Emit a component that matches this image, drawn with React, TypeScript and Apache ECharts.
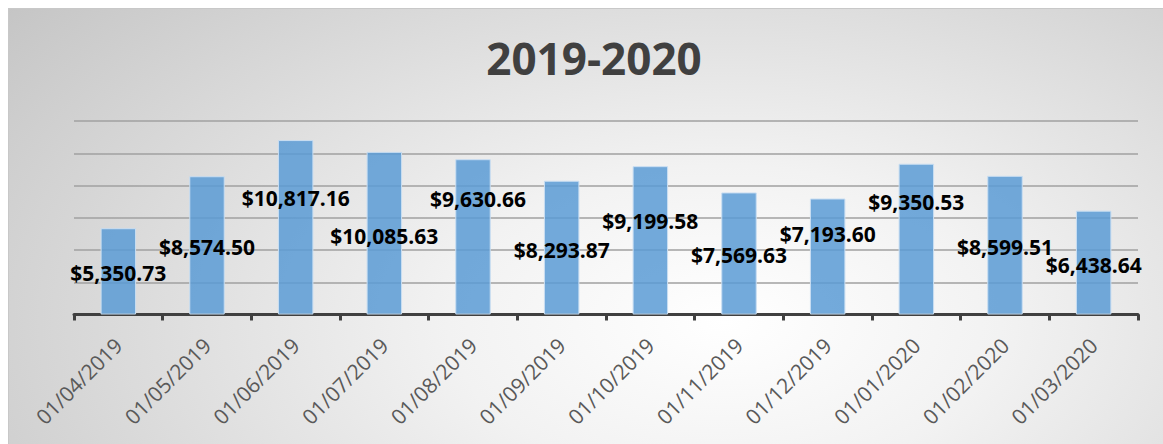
import React, { useEffect, useRef } from "react";
import * as echarts from "echarts";

const title = "2019-2020";
const categories = [
  "01/04/2019", "01/05/2019", "01/06/2019", "01/07/2019", "01/08/2019", "01/09/2019",
  "01/10/2019", "01/11/2019", "01/12/2019", "01/01/2020", "01/02/2020", "01/03/2020",
];
const values = [
  5350.73, 8574.5, 10817.16, 10085.63, 9630.66, 8293.87,
  9199.58, 7569.63, 7193.6, 9350.53, 8599.51, 6438.64,
];
const yTicks = { min: 0, max: 12000, interval: 2000 };
// label placement (styling only): offset from bar top [dx, dy]
const labelOffsets = [
  [0, 45], [0, 71], [0, 57.5], [0, 84], [5, 40], [0, 69],
  [0, 55], [0, 62.5], [0, 35], [0, 38], [0, 71.6], [0, 54],
];

const fmt = (v: number) =>
  "$" + v.toLocaleString("en-US", { minimumFractionDigits: 2, maximumFractionDigits: 2 });

export default function App() {
  const ref = useRef<HTMLDivElement>(null);
  useEffect(() => {
    if (!ref.current) return;
    const chart = echarts.init(ref.current, undefined, { renderer: "svg" });
    chart.setOption({
      animation: false,
      title: {
        text: title,
        left: 580,
        textAlign: "center",
        top: 22,
        textStyle: { fontFamily: "Open Sans", fontWeight: "bold", fontSize: 44, color: "#404040" },
      },
      grid: { left: 65, right: 25, top: 112, bottom: 129.5, containLabel: false },
      xAxis: {
        type: "category",
        data: categories,
        axisLine: { lineStyle: { color: "#404040", width: 3 } },
        axisTick: { show: true, interval: 0, length: 6, lineStyle: { color: "#404040", width: 3 } },
        axisLabel: {
          interval: 0,
          rotate: 45,
          margin: 27,
          fontFamily: "Open Sans",
          fontSize: 21,
          color: "#595959",
        },
      },
      yAxis: {
        type: "value",
        ...yTicks,
        axisLabel: { show: false },
        axisLine: { show: false },
        axisTick: { show: false },
        splitLine: { lineStyle: { color: "#a0a0a0", width: 1.5 } },
      },
      series: [
        {
          type: "bar",
          barCategoryGap: "60%",
          data: values.map((v, i) => ({
            value: v,
            label: { offset: labelOffsets[i] },
          })),
          itemStyle: {
            color: "rgba(91,155,213,0.85)",
            borderColor: "#c9def2",
            borderWidth: 1,
          },
          label: {
            show: true,
            position: "top",
            distance: 0,
            verticalAlign: "middle",
            formatter: (p: any) => fmt(p.value),
            fontFamily: "Open Sans",
            fontWeight: "bold",
            fontSize: 21,
            color: "#000000",
          },
        },
      ],
    });
    return () => chart.dispose();
  }, []);
  return (
    <div
      ref={ref}
      style={{
        position: "absolute",
        left: 8,
        top: 8,
        width: 1155,
        height: 436,
        background:
          "radial-gradient(ellipse 80% 120% at 62% 72%, #ffffff 0%, #f2f2f2 30%, #c4c4c4 100%)",
        borderTop: "1px solid #c8c8c8",
        borderLeft: "1px solid #c8c8c8",
        boxSizing: "border-box",
      }}
    />
  );
}
